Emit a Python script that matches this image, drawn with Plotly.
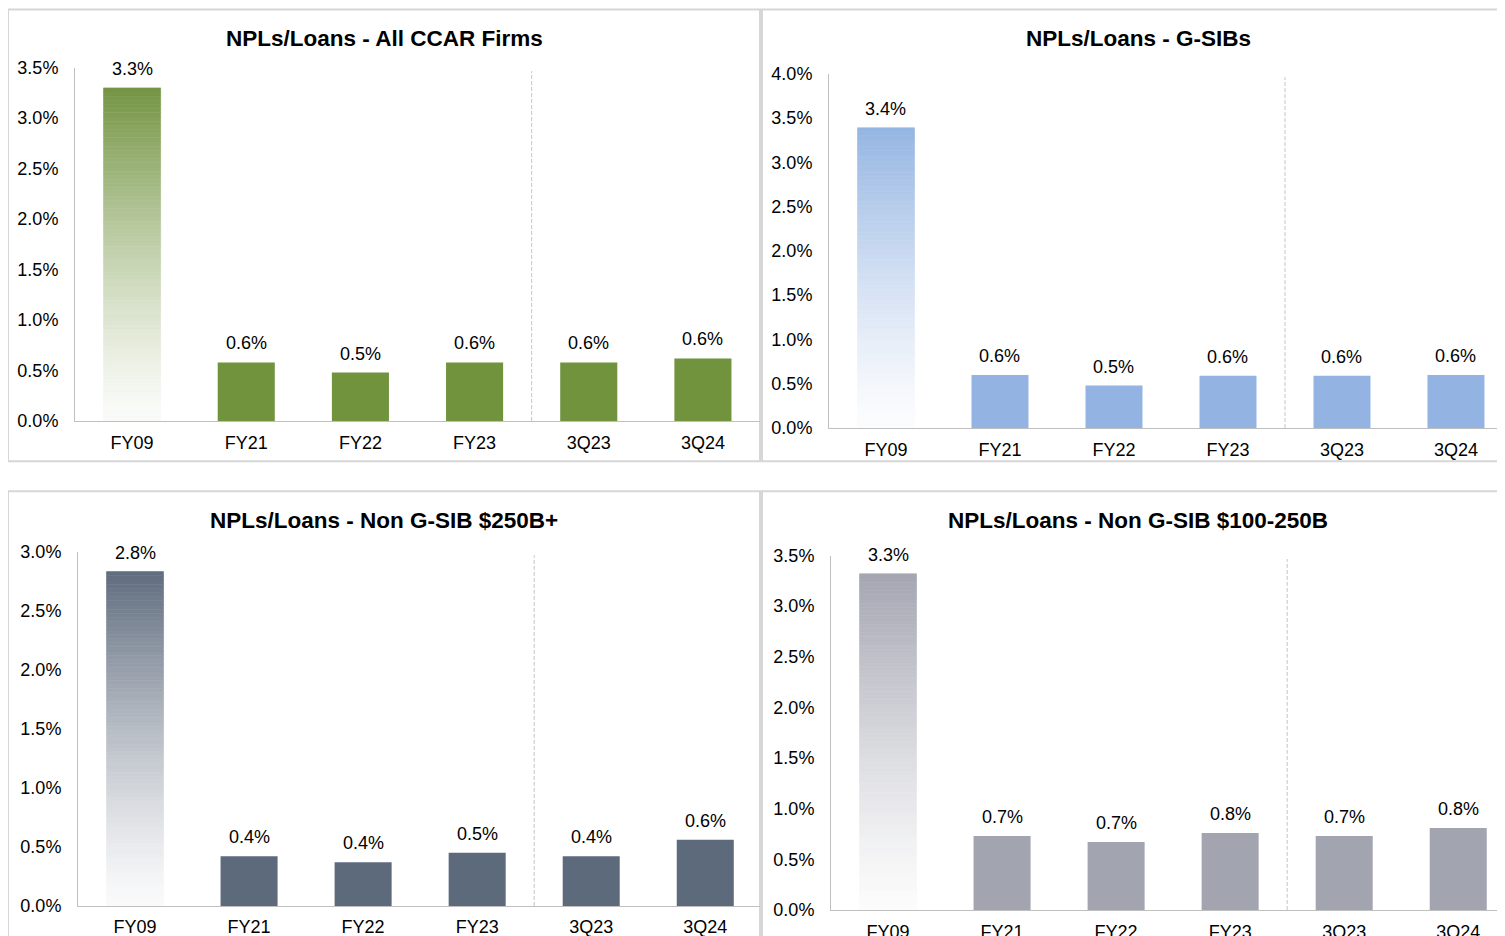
import plotly.graph_objects as go

# how the page shows the figure: shifted right, and top-offset / squeezed vertically
OX = 8
OY, SY = 18.5, 0.975
W, H = 1505 - OX, 941

categories = ["FY09", "FY21", "FY22", "FY23", "3Q23", "3Q24"]

# NPLs / loans, in percent
all_ccar = [3.30, 0.58, 0.48, 0.58, 0.58, 0.62]
gsibs = [3.39, 0.60, 0.48, 0.59, 0.59, 0.60]
non_gsib_250 = [2.83, 0.42, 0.37, 0.45, 0.42, 0.56]
non_gsib_100_250 = [3.32, 0.73, 0.67, 0.76, 0.73, 0.81]

titles = ["NPLs/Loans - All CCAR Firms", "NPLs/Loans - G-SIBs",
          "NPLs/Loans - Non G-SIB $250B+", "NPLs/Loans - Non G-SIB $100-250B"]
colors = ["#71933E", "#93B4E2", "#5D6A7C", "#A2A4B0"]
y_max = [3.5, 4.0, 3.0, 3.5]

# window-pixel layout: plot x span, plot y (bottom, top), x range end, box
layout_px = [
    dict(x=(75, 760), y=(420, 68), xend=5.5, box=(8, 10, 760, 460)),
    dict(x=(829, 1505), y=(427, 74), xend=5.43, box=(762, 10, 1514, 460)),
    dict(x=(78, 760), y=(903, 550), xend=5.48, box=(8, 490, 760, 970)),
    dict(x=(831, 1505), y=(907, 554), xend=5.41, box=(762, 490, 1514, 970)),
]

FONT = "Liberation Sans, Arial, sans-serif"


def px(x):
    return (x - OX) / W


def py(y):
    return 1 - (y - OY) / SY / H


def mix(hex_color, f):
    r, g, b = (int(hex_color[i:i + 2], 16) for i in (1, 3, 5))
    return "rgb(%d,%d,%d)" % (255 + (r - 255) * f, 255 + (g - 255) * f, 255 + (b - 255) * f)


fig = go.Figure()
series = [all_ccar, gsibs, non_gsib_250, non_gsib_100_250]
N = 80

for i, vals in enumerate(series):
    n = "" if i == 0 else str(i + 1)
    lp = layout_px[i]
    col = colors[i]

    # FY09 gradient bar, built from slices of its value
    seg = vals[0] / N
    seg_colors = [mix(col, 0.03 + 0.95 * ((k + 0.5) / N) ** 1.3) for k in range(N)]
    fig.add_trace(go.Bar(
        x=[categories[0]] * N, y=[seg] * N, base=[k * seg for k in range(N)],
        width=0.5,
        marker=dict(color=seg_colors, line=dict(width=0.6, color=seg_colors)),
        xaxis="x" + n, yaxis="y" + n, hoverinfo="skip", showlegend=False))

    bar_colors = ["rgba(0,0,0,0)"] + [col] * (len(vals) - 1)
    fig.add_trace(go.Bar(
        x=categories, y=vals, width=0.5,
        marker=dict(color=bar_colors, line=dict(width=0)),
        xaxis="x" + n, yaxis="y" + n, showlegend=False))

    for c, v in zip(categories, vals):
        fig.add_annotation(x=c, y=v, xref="x" + n, yref="y" + n, text="%.1f%%" % v,
                           showarrow=False, yanchor="bottom", yshift=7,
                           font=dict(size=18, color="#000000", family=FONT))

    bx0, by0, bx1, by1 = lp["box"]
    fig.add_annotation(x=px((bx0 + bx1) / 2), y=py(by0 + 29), xref="paper", yref="paper",
                       xanchor="center", yanchor="middle",
                       text="<b>%s</b>" % titles[i], showarrow=False,
                       font=dict(size=22.5, color="#000000", family=FONT))
    fig.add_shape(type="rect", xref="paper", yref="paper",
                  x0=px(bx0), x1=px(bx1), y0=py(by0), y1=py(by1),
                  line=dict(color="#D6D6D6", width=2), layer="below")

    fig.add_shape(type="line", xref="x" + n, yref="y" + n + " domain",
                  x0=3.5, x1=3.5, y0=0, y1=0.99,
                  line=dict(color="#C4C4C4", width=1, dash="4px,2px"))

    fig.update_layout(**{
        "xaxis" + n: dict(
            domain=[px(lp["x"][0]), min(1, px(lp["x"][1]))], range=[-0.5, lp["xend"]],
            type="category", anchor="y" + n, showline=True, linecolor="#BFBFBF",
            linewidth=1, showgrid=False, zeroline=False, ticks="",
            ticklabelstandoff=5, tickfont=dict(size=18, color="#000000", family=FONT)),
        "yaxis" + n: dict(
            domain=[py(lp["y"][0]), py(lp["y"][1])], range=[0, y_max[i]],
            anchor="x" + n, showline=True, linecolor="#BFBFBF", linewidth=1,
            showgrid=False, zeroline=False, ticks="", dtick=0.5,
            tickformat=".1f", ticksuffix="%", ticklabelstandoff=12,
            tickfont=dict(size=18, color="#000000", family=FONT)),
    })

fig.update_layout(
    width=W, height=H, margin=dict(l=0, r=0, t=0, b=0),
    barmode="overlay", bargap=0.5,
    paper_bgcolor="white", plot_bgcolor="white",
    font=dict(family=FONT, color="#000000"),
)

fig.write_html("out.html")
